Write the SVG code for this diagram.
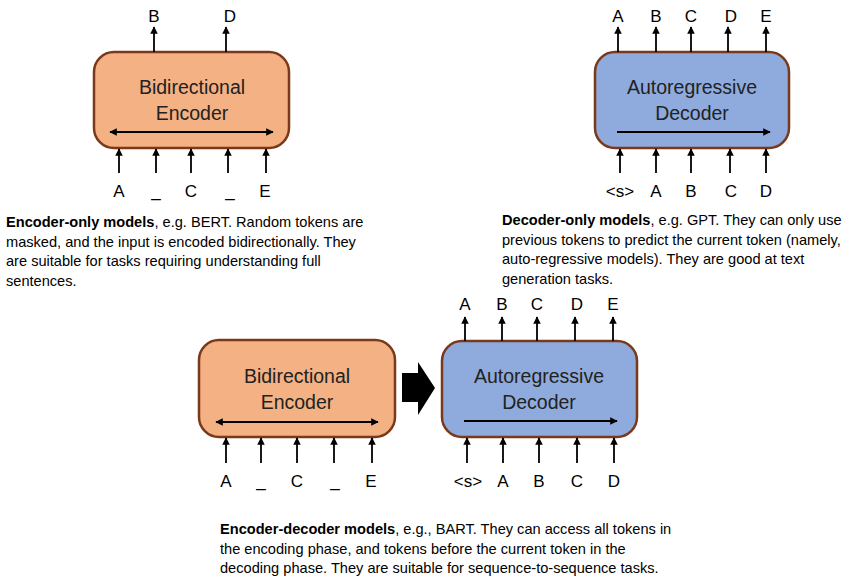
<svg xmlns="http://www.w3.org/2000/svg" width="866" height="578" viewBox="0 0 866 578">
<defs>
<marker id="ah" viewBox="0 0 10 10" refX="9" refY="5" markerWidth="4.2" markerHeight="4.2" orient="auto-start-reverse" markerUnits="strokeWidth">
<path d="M0,0 L10,5 L0,10 z" fill="#000"/>
</marker>
<style>
.enc{fill:#F4B183;stroke:#7A3A1A;stroke-width:2.5}
.dec{fill:#8FAADC;stroke:#7A3A1A;stroke-width:2.5}
.ttl{font-family:"Liberation Sans",Arial,sans-serif;font-size:19.5px;fill:#222;text-anchor:middle}
.tok{font-family:"Liberation Sans",Arial,sans-serif;font-size:17px;fill:#000;text-anchor:middle}
.par{font-family:"Liberation Sans",Arial,sans-serif;font-size:14.6px;fill:#000}
.b{font-weight:bold}
.ar{stroke:#000;stroke-width:1.8;fill:none;marker-end:url(#ah)}
.ar2{stroke:#000;stroke-width:1.8;fill:none;marker-end:url(#ah);marker-start:url(#ah)}
</style>
</defs>

<g id="encoder-top">
<rect class="enc" x="94" y="52" width="195" height="96" rx="20"/>
<text class="ttl" x="192" y="94">Bidirectional</text>
<text class="ttl" x="192" y="120">Encoder</text>
</g>
<g id="decoder-top">
<rect class="dec" x="595" y="52" width="194" height="96" rx="20"/>
<text class="ttl" x="692" y="94">Autoregressive</text>
<text class="ttl" x="692" y="120">Decoder</text>
</g>
<g id="encoder-bottom">
<rect class="enc" x="199" y="340" width="196" height="97" rx="20"/>
<text class="ttl" x="297" y="383">Bidirectional</text>
<text class="ttl" x="297" y="409">Encoder</text>
</g>
<g id="decoder-bottom">
<rect class="dec" x="442" y="341" width="195" height="96" rx="20"/>
<text class="ttl" x="539" y="383">Autoregressive</text>
<text class="ttl" x="539" y="409">Decoder</text>
</g>
<g id="block-arrow">
<path d="M402,373 L418,373 L418,362 L435,388 L418,415 L418,402 L402,402 z" fill="#000"/>
</g>

<g id="connectors">
<line class="ar" x1="154" y1="52" x2="154" y2="27"/>
<line class="ar" x1="226" y1="52" x2="226" y2="27"/>
<line class="ar2" x1="110" y1="132" x2="273" y2="132"/>
<line class="ar" x1="119" y1="173" x2="119" y2="149"/>
<line class="ar" x1="156" y1="173" x2="156" y2="149"/>
<line class="ar" x1="191" y1="173" x2="191" y2="149"/>
<line class="ar" x1="228" y1="173" x2="228" y2="149"/>
<line class="ar" x1="266" y1="173" x2="266" y2="149"/>
<line class="ar" x1="618" y1="52" x2="618" y2="27"/>
<line class="ar" x1="656" y1="52" x2="656" y2="27"/>
<line class="ar" x1="691" y1="52" x2="691" y2="27"/>
<line class="ar" x1="728" y1="52" x2="728" y2="27"/>
<line class="ar" x1="766" y1="52" x2="766" y2="27"/>
<line class="ar" x1="617" y1="132" x2="770" y2="132"/>
<line class="ar" x1="620" y1="173" x2="620" y2="149"/>
<line class="ar" x1="656" y1="173" x2="656" y2="149"/>
<line class="ar" x1="691" y1="173" x2="691" y2="149"/>
<line class="ar" x1="730" y1="173" x2="730" y2="149"/>
<line class="ar" x1="766" y1="173" x2="766" y2="149"/>
<line class="ar2" x1="216" y1="422" x2="378" y2="422"/>
<line class="ar" x1="226" y1="463" x2="226" y2="438"/>
<line class="ar" x1="261" y1="463" x2="261" y2="438"/>
<line class="ar" x1="297" y1="463" x2="297" y2="438"/>
<line class="ar" x1="334" y1="463" x2="334" y2="438"/>
<line class="ar" x1="372" y1="463" x2="372" y2="438"/>
<line class="ar" x1="465" y1="341" x2="465" y2="317"/>
<line class="ar" x1="502" y1="341" x2="502" y2="317"/>
<line class="ar" x1="537" y1="341" x2="537" y2="317"/>
<line class="ar" x1="575" y1="341" x2="575" y2="317"/>
<line class="ar" x1="613" y1="341" x2="613" y2="317"/>
<line class="ar" x1="464" y1="421" x2="617" y2="421"/>
<line class="ar" x1="467" y1="463" x2="467" y2="438"/>
<line class="ar" x1="503" y1="463" x2="503" y2="438"/>
<line class="ar" x1="539" y1="463" x2="539" y2="438"/>
<line class="ar" x1="577" y1="463" x2="577" y2="438"/>
<line class="ar" x1="614" y1="463" x2="614" y2="438"/>
</g>

<g id="tokens">
<text class="tok" x="154" y="22">B</text>
<text class="tok" x="230" y="22">D</text>
<text class="tok" x="119" y="197">A</text>
<text class="tok" x="156" y="197">_</text>
<text class="tok" x="191" y="197">C</text>
<text class="tok" x="230" y="197">_</text>
<text class="tok" x="265" y="197">E</text>

<text class="tok" x="618" y="22">A</text>
<text class="tok" x="656" y="22">B</text>
<text class="tok" x="691" y="22">C</text>
<text class="tok" x="731" y="22">D</text>
<text class="tok" x="766" y="22">E</text>
<text class="tok" x="620" y="197">&lt;s&gt;</text>
<text class="tok" x="656" y="197">A</text>
<text class="tok" x="691" y="197">B</text>
<text class="tok" x="731" y="197">C</text>
<text class="tok" x="766" y="197">D</text>

<text class="tok" x="226" y="487">A</text>
<text class="tok" x="261" y="487">_</text>
<text class="tok" x="297" y="487">C</text>
<text class="tok" x="335" y="487">_</text>
<text class="tok" x="371" y="487">E</text>

<text class="tok" x="465" y="310">A</text>
<text class="tok" x="502" y="310">B</text>
<text class="tok" x="537" y="310">C</text>
<text class="tok" x="577" y="310">D</text>
<text class="tok" x="613" y="310">E</text>
<text class="tok" x="468" y="487">&lt;s&gt;</text>
<text class="tok" x="503" y="487">A</text>
<text class="tok" x="539" y="487">B</text>
<text class="tok" x="577" y="487">C</text>
<text class="tok" x="614" y="487">D</text>
</g>

<g id="captions">
<text class="par" x="6" y="227"><tspan class="b">Encoder-only models</tspan>, e.g. BERT. Random tokens are</text>
<text class="par" x="6" y="246.5">masked, and the input is encoded bidirectionally. They</text>
<text class="par" x="6" y="266">are suitable for tasks requiring understanding full</text>
<text class="par" x="6" y="285.5">sentences.</text>

<text class="par" x="502" y="225"><tspan class="b">Decoder-only models</tspan>, e.g. GPT. They can only use</text>
<text class="par" x="502" y="244.5">previous tokens to predict the current token (namely,</text>
<text class="par" x="502" y="264">auto-regressive models). They are good at text</text>
<text class="par" x="502" y="283.5">generation tasks.</text>

<text class="par" x="220" y="534"><tspan class="b">Encoder-decoder models</tspan>, e.g., BART. They can access all tokens in</text>
<text class="par" x="220" y="553.5">the encoding phase, and tokens before the current token in the</text>
<text class="par" x="220" y="573">decoding phase. They are suitable for sequence-to-sequence tasks.</text>
</g>
</svg>
